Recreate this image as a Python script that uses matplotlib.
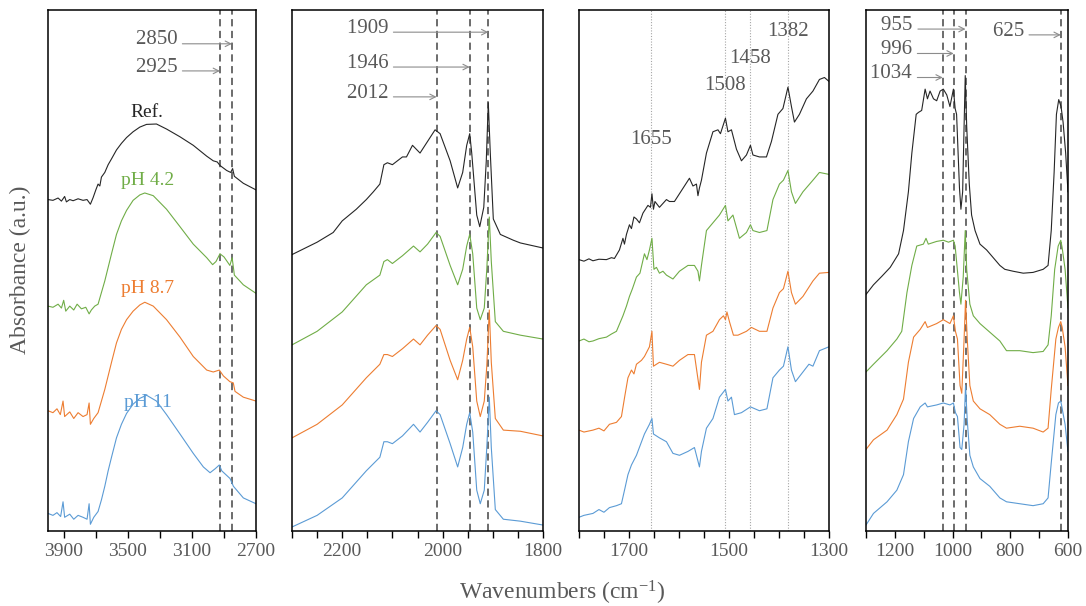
import matplotlib
matplotlib.use('Agg')
import matplotlib.pyplot as plt

plt.rcParams['font.family'] = ['Liberation Serif', 'DejaVu Serif']
plt.rcParams['mathtext.default'] = 'regular'

# colours of the four samples
c_ref = '#262626'
c_42 = '#70ad47'
c_87 = '#ed7d31'
c_11 = '#5b9bd5'
grey = '#595959'

# ---- panel 1 : 4000-2700 cm-1 ----
p1_ref_x = [4000, 3969, 3937, 3916, 3896, 3885, 3864, 3843, 3812, 3781, 3756, 3735, 3718, 3701, 3687, 3676,
            3666, 3645, 3624, 3603, 3572, 3541, 3509, 3468, 3426, 3384, 3322, 3259, 3175, 3092, 3008, 2967,
            2942, 2925, 2883, 2858, 2846, 2835, 2779, 2700]
p1_ref_y = [85.5, 85.3, 85.9, 85.1, 86.3, 84.9, 85.5, 85.2, 85.7, 85.3, 85.5, 84.3, 86.0, 88.0, 89.5, 89.0,
            91.3, 92.5, 94.5, 96.0, 98.3, 100.0, 101.5, 103.0, 104.2, 104.9, 105.0, 103.7, 101.7, 99.5, 96.7, 95.5,
            95.2, 94.3, 93.0, 92.5, 93.5, 91.5, 89.7, 88.0]
p1_42_x = [4000, 3969, 3937, 3916, 3902, 3889, 3864, 3839, 3818, 3791, 3764, 3743, 3729, 3708, 3687, 3666,
           3645, 3624, 3603, 3572, 3541, 3509, 3468, 3426, 3395, 3342, 3259, 3175, 3092, 3008, 2971, 2950,
           2925, 2900, 2863, 2849, 2835, 2779, 2700]
p1_42_y = [58.0, 57.7, 58.5, 57.5, 59.5, 56.7, 58.0, 57.0, 58.5, 57.3, 57.7, 56.0, 57.0, 58.0, 58.5, 61.5,
           64.5, 68.0, 71.5, 76.5, 80.0, 82.7, 85.3, 86.7, 87.2, 86.5, 83.0, 78.5, 74.0, 70.5, 68.7, 69.5,
           71.5, 70.7, 68.5, 70.5, 66.0, 63.5, 61.3]
p1_87_x = [4000, 3969, 3944, 3923, 3906, 3896, 3864, 3839, 3812, 3781, 3756, 3743, 3735, 3714, 3687, 3666,
           3645, 3624, 3603, 3572, 3541, 3509, 3468, 3426, 3395, 3342, 3259, 3175, 3092, 3008, 2967, 2929,
           2904, 2863, 2842, 2831, 2779, 2700]
p1_87_y = [31.0, 30.5, 31.5, 30.0, 33.5, 29.5, 30.7, 29.0, 30.5, 29.5, 30.0, 33.0, 27.5, 29.0, 30.5, 33.5,
           36.5, 40.0, 43.5, 48.5, 52.0, 54.5, 56.7, 58.3, 59.0, 58.0, 54.5, 50.0, 45.0, 41.5, 41.0, 41.5,
           40.0, 38.5, 38.2, 36.0, 34.5, 33.5]
p1_11_x = [4000, 3969, 3944, 3921, 3906, 3896, 3864, 3839, 3812, 3781, 3756, 3743, 3735, 3714, 3687, 3666,
           3645, 3624, 3603, 3572, 3541, 3509, 3468, 3426, 3384, 3322, 3259, 3175, 3092, 3029, 2987, 2956,
           2929, 2914, 2862, 2841, 2779, 2700]
p1_11_y = [4.5, 4.0, 4.7, 3.7, 7.5, 3.5, 4.3, 3.0, 4.0, 3.5, 3.0, 7.0, 1.7, 3.5, 5.0, 8.0,
           11.5, 15.5, 19.0, 24.0, 27.5, 30.3, 32.7, 34.2, 35.0, 33.5, 30.0, 25.0, 20.0, 16.5, 15.0, 16.0,
           17.0, 15.5, 13.5, 11.5, 8.5, 7.0]

# ---- panel 2 : 2300-1800 cm-1 ----
p2_x = [2300, 2250, 2218, 2200, 2172, 2152, 2138, 2125, 2117, 2110, 2100, 2080, 2072, 2060, 2045, 2030,
        2015, 2005, 1985, 1970, 1960, 1952, 1946, 1942, 1932, 1926, 1918, 1913, 1909, 1905, 1899, 1885,
        1859, 1845, 1800]
p2_ref = [71.3, 74.5, 77.0, 80.0, 83.0, 85.5, 87.5, 89.5, 94.5, 95.0, 94.5, 96.5, 96.5, 99.5, 97.5, 100.5,
          103.5, 102.5, 95.5, 88.5, 92.5, 99.5, 102.5, 97.5, 81.5, 78.5, 83.5, 95.5, 110.5, 97.5, 80.5, 76.5,
          75.0, 74.3, 73.0]
p2_xs = [2300, 2250, 2200, 2152, 2125, 2117, 2110, 2100, 2080, 2058, 2045, 2030, 2013, 2005, 1985, 1970,
         1960, 1952, 1946, 1940, 1932, 1925, 1917, 1912, 1907, 1903, 1895, 1879, 1845, 1800]
p2_42 = [48.0, 51.5, 56.5, 63.5, 66.0, 69.5, 70.0, 69.0, 71.0, 73.5, 72.0, 74.0, 77.0, 76.0, 68.5, 63.5,
         67.5, 73.5, 76.5, 71.5, 57.5, 54.5, 57.5, 67.5, 81.0, 69.5, 54.0, 51.5, 50.5, 49.5]
p2_87 = [24.0, 27.5, 32.5, 39.5, 43.0, 45.5, 45.5, 45.0, 47.0, 49.5, 48.0, 50.5, 53.0, 52.0, 44.0, 39.0,
         44.0, 49.5, 52.5, 47.5, 33.5, 29.5, 33.5, 42.5, 57.0, 43.5, 29.0, 26.0, 25.7, 24.5]
p2_11 = [1.0, 4.0, 8.5, 15.5, 19.0, 23.0, 23.0, 22.5, 24.5, 27.5, 25.5, 28.0, 31.0, 30.0, 22.5, 16.5,
         21.5, 27.5, 30.5, 25.5, 10.5, 7.0, 10.5, 21.5, 34.5, 21.5, 5.5, 3.0, 2.5, 1.5]

# ---- panel 3 : 1800-1300 cm-1 ----
p3_ref_x = [1800, 1790, 1780, 1772, 1760, 1745, 1735, 1729, 1719, 1712, 1709, 1705, 1699, 1695, 1690, 1685,
            1679, 1672, 1667, 1662, 1657, 1654, 1651, 1648, 1645, 1639, 1632, 1625, 1619, 1609, 1599, 1579,
            1572, 1565, 1562, 1559, 1555, 1545, 1532, 1522, 1517, 1512, 1507, 1502, 1495, 1485, 1475, 1465,
            1457, 1452, 1439, 1425, 1415, 1402, 1392, 1382, 1375, 1369, 1359, 1345, 1332, 1319, 1309, 1300]
p3_ref = [70.0, 69.6, 70.2, 69.7, 70.1, 70.0, 70.5, 70.3, 72.5, 75.5, 74.0, 76.5, 79.0, 78.0, 81.0, 80.5,
          79.5, 82.0, 83.0, 84.0, 83.5, 87.0, 83.0, 85.0, 84.5, 83.5, 84.5, 85.5, 85.0, 85.0, 87.0, 91.0,
          89.0, 89.5, 86.5, 88.5, 90.5, 97.5, 103.0, 103.5, 102.5, 104.5, 106.5, 103.0, 103.5, 98.5, 95.5, 97.0,
          99.5, 97.0, 96.5, 96.5, 100.5, 107.5, 109.0, 114.5, 109.5, 105.5, 107.5, 111.5, 113.5, 116.5, 117.0, 116.0]
p3_42_x = [1800, 1790, 1780, 1772, 1760, 1745, 1735, 1725, 1712, 1705, 1699, 1693, 1685, 1678, 1669, 1664,
           1659, 1654, 1650, 1645, 1639, 1632, 1625, 1612, 1599, 1582, 1569, 1562, 1559, 1555, 1545, 1532,
           1519, 1507, 1502, 1492, 1479, 1465, 1457, 1452, 1439, 1424, 1412, 1399, 1391, 1382, 1375, 1367,
           1352, 1332, 1319, 1300]
p3_42 = [49.0, 49.5, 48.8, 49.0, 49.6, 50.0, 50.8, 51.5, 55.5, 58.0, 60.5, 62.5, 65.5, 66.5, 71.5, 70.0,
         72.5, 75.5, 67.5, 68.0, 66.5, 67.0, 66.0, 65.0, 67.0, 68.5, 68.5, 67.0, 64.5, 68.5, 77.5, 79.5,
         81.5, 84.0, 80.0, 81.5, 75.5, 77.0, 79.0, 77.5, 77.0, 77.5, 85.5, 89.5, 90.5, 93.0, 87.5, 84.5,
         87.5, 90.5, 92.5, 92.0]
p3_87_x = [1800, 1790, 1772, 1760, 1750, 1739, 1725, 1715, 1708, 1702, 1695, 1690, 1685, 1675, 1669, 1659,
           1654, 1651, 1639, 1625, 1612, 1599, 1582, 1569, 1559, 1555, 1545, 1532, 1519, 1511, 1507, 1504,
           1499, 1491, 1482, 1465, 1455, 1439, 1424, 1412, 1399, 1391, 1382, 1375, 1367, 1352, 1332, 1319, 1300]
p3_87 = [26.0, 25.5, 26.0, 26.5, 25.8, 27.5, 28.0, 29.5, 35.0, 39.5, 41.5, 40.5, 43.0, 44.0, 45.0, 47.5,
         51.5, 42.5, 43.5, 43.0, 42.5, 44.0, 45.5, 45.5, 36.5, 43.5, 50.5, 51.5, 54.5, 55.5, 54.5, 56.5,
         54.0, 50.5, 50.5, 51.5, 52.5, 51.5, 51.5, 57.5, 61.5, 62.5, 67.0, 61.5, 58.5, 60.5, 64.5, 66.5, 66.7]
p3_11_x = [1800, 1790, 1772, 1760, 1750, 1739, 1725, 1715, 1708, 1702, 1695, 1685, 1669, 1659, 1654, 1651,
           1639, 1625, 1612, 1599, 1582, 1569, 1559, 1555, 1545, 1532, 1519, 1507, 1502, 1495, 1489, 1475,
           1457, 1439, 1424, 1412, 1399, 1391, 1382, 1375, 1367, 1352, 1340, 1332, 1319, 1300]
p3_11 = [3.5, 4.0, 4.5, 5.5, 4.8, 6.0, 6.5, 7.0, 11.0, 14.5, 17.0, 19.5, 25.0, 27.5, 29.0, 25.0,
         24.0, 23.0, 20.0, 19.5, 20.5, 21.5, 16.5, 20.5, 26.5, 29.0, 34.5, 36.5, 33.5, 34.5, 30.0, 30.5,
         32.0, 31.0, 31.5, 39.5, 41.5, 42.5, 47.5, 41.5, 38.5, 41.0, 43.0, 42.5, 46.5, 47.5]

# ---- panel 4 : 1300-600 cm-1 ----
p4_ref_x = [1300, 1274, 1245, 1216, 1187, 1170, 1153, 1141, 1126, 1118, 1107, 1095, 1087, 1078, 1066, 1055,
            1043, 1032, 1020, 1009, 997, 991, 986, 976, 971, 965, 960, 956, 951, 942, 934, 922,
            905, 882, 859, 836, 819, 790, 755, 721, 686, 669, 658, 648, 640, 632, 624, 617, 608, 600]
p4_ref = [61.0, 63.5, 65.7, 68.0, 71.5, 77.5, 87.5, 97.5, 107.5, 108.0, 108.5, 114.0, 111.5, 113.5, 111.5, 111.0,
          113.5, 114.0, 112.5, 109.5, 114.0, 109.0, 107.5, 88.5, 83.0, 87.5, 104.5, 117.5, 104.5, 89.5, 81.5, 77.5,
          74.0, 72.5, 70.5, 68.5, 67.5, 67.0, 66.5, 66.7, 67.5, 68.5, 77.5, 92.5, 107.5, 111.3, 109.5, 105.5, 97.5, 87.5]
p4_42_x = [1300, 1274, 1227, 1193, 1176, 1158, 1141, 1124, 1101, 1092, 1084, 1055, 1032, 1014, 997, 991,
           986, 976, 971, 963, 956, 951, 940, 928, 905, 882, 859, 836, 813, 767, 721, 686,
           669, 658, 646, 634, 625, 620, 610, 600]
p4_42 = [41.0, 43.0, 46.5, 49.5, 51.5, 61.5, 68.5, 73.5, 74.0, 75.5, 74.0, 74.7, 75.0, 74.5, 75.0, 73.5,
         69.5, 61.5, 58.5, 65.5, 77.5, 67.5, 58.5, 55.5, 53.5, 52.0, 50.5, 49.0, 46.5, 46.5, 46.0, 46.3,
         48.0, 55.5, 67.5, 73.5, 75.0, 73.0, 67.5, 57.5]
p4_87_x = [1300, 1274, 1227, 1193, 1170, 1153, 1135, 1112, 1095, 1087, 1055, 1032, 1009, 997, 990, 983,
           974, 968, 960, 955, 949, 940, 928, 905, 871, 836, 813, 767, 721, 686, 669, 658,
           642, 633, 625, 620, 610, 600]
p4_87 = [21.0, 23.5, 26.0, 30.0, 34.0, 43.5, 50.0, 52.0, 54.0, 52.5, 53.5, 54.5, 53.5, 55.5, 51.5, 49.5,
         37.5, 35.5, 49.5, 59.5, 49.5, 37.5, 33.5, 31.5, 30.0, 27.5, 26.5, 27.0, 26.5, 25.5, 26.5, 36.5,
         49.5, 52.5, 54.0, 52.5, 47.5, 37.5]
p4_11_x = p4_87_x
p4_11 = [1.5, 4.5, 7.5, 10.5, 14.5, 23.0, 29.0, 32.0, 33.0, 32.0, 32.5, 33.0, 32.5, 33.0, 30.5, 29.5,
         21.5, 21.0, 27.5, 37.5, 28.5, 19.5, 16.5, 13.5, 11.5, 8.5, 7.5, 7.0, 6.5, 7.0, 8.5, 17.5,
         30.0, 33.0, 33.5, 31.5, 27.5, 20.5]

sample_names = ['Ref.', 'pH 4.2', 'pH 8.7', 'pH 11']
sample_colors = [c_ref, c_42, c_87, c_11]
name_pos = [(3380, 108.0), (3380, 90.5), (3380, 62.5), (3375, 33.0)]

# marked bands: (wavenumber, arrow height, arrow start)
p1_bands = [(2850, 125.7, 3160), (2925, 118.7, 3160)]
p2_bands = [(1909, 128.7, 2098), (1946, 119.7, 2098), (2012, 112.0, 2098)]
p3_bands = [(1655, 101.0), (1508, 115.0), (1458, 122.0), (1382, 129.0)]
p4_bands = [(955, 129.5, 1120), (996, 123.2, 1122), (1034, 117.0, 1122), (625, 128.0, 735)]

fig = plt.figure(figsize=(10.86, 6.06), dpi=100)
bot, h = 0.124, 0.860
ax1 = fig.add_axes([0.0442, bot, 0.1915, h])
ax2 = fig.add_axes([0.2689, bot, 0.2311, h])
ax3 = fig.add_axes([0.5331, bot, 0.2302, h])
ax4 = fig.add_axes([0.7974, bot, 0.1860, h])

lw = 0.8
ax1.plot(p1_ref_x, p1_ref_y, color=c_ref, lw=lw)
ax1.plot(p1_42_x, p1_42_y, color=c_42, lw=lw)
ax1.plot(p1_87_x, p1_87_y, color=c_87, lw=lw)
ax1.plot(p1_11_x, p1_11_y, color=c_11, lw=lw)

ax2.plot(p2_x, p2_ref, color=c_ref, lw=lw)
ax2.plot(p2_xs, p2_42, color=c_42, lw=lw)
ax2.plot(p2_xs, p2_87, color=c_87, lw=lw)
ax2.plot(p2_xs, p2_11, color=c_11, lw=lw)

ax3.plot(p3_ref_x, p3_ref, color=c_ref, lw=lw)
ax3.plot(p3_42_x, p3_42, color=c_42, lw=lw)
ax3.plot(p3_87_x, p3_87, color=c_87, lw=lw)
ax3.plot(p3_11_x, p3_11, color=c_11, lw=lw)

ax4.plot(p4_ref_x, p4_ref, color=c_ref, lw=lw)
ax4.plot(p4_42_x, p4_42, color=c_42, lw=lw)
ax4.plot(p4_87_x, p4_87, color=c_87, lw=lw)
ax4.plot(p4_11_x, p4_11, color=c_11, lw=lw)

for name, col, (x, y) in zip(sample_names, sample_colors, name_pos):
    ax1.text(x, y, name, color=col, fontsize=14, ha='center', va='center')


def arrow_label(ax, wn, y, x0, txt):
    ax.annotate('', xy=(wn, y), xytext=(x0, y),
                arrowprops=dict(arrowstyle='->', color='#8c8c8c', lw=0.8,
                                shrinkA=0, shrinkB=0, mutation_scale=10))
    ax.text(x0, y + 1.0, txt + ' ', color=grey, fontsize=15, ha='right', va='center')


dash = (0, (4, 2.5))
for ax, bands in [(ax1, p1_bands), (ax2, p2_bands), (ax4, p4_bands)]:
    for wn, y, x0 in bands:
        ax.axvline(wn, color='#606060', lw=1.3, ls=dash, zorder=0)
        arrow_label(ax, wn, y, x0, str(wn))

for wn, y in p3_bands:
    ax3.axvline(wn, color='#a6a6a6', lw=0.8, ls=(0, (1, 1.5)), zorder=0)
    ax3.text(wn, y, str(wn), color=grey, fontsize=15, ha='center', va='center')

limits = [(4000, 2700), (2300, 1800), (1800, 1300), (1300, 600)]
major = [[3900, 3500, 3100, 2700], [2200, 2000, 1800], [1700, 1500, 1300], [1200, 1000, 800, 600]]
minor = [list(range(3700, 2800, -400)), list(range(2300, 1799, -50)), list(range(1800, 1299, -50)),
         list(range(1300, 599, -100))]

for ax, lim, mj, mn in zip([ax1, ax2, ax3, ax4], limits, major, minor):
    ax.set_xlim(lim)
    ax.set_ylim(0, 134.5)
    ax.set_yticks([])
    ax.set_xticks(mj)
    ax.set_xticks(mn, minor=True)
    ax.tick_params(axis='x', which='both', direction='out', length=5, width=1, color='black',
                   labelsize=14, labelcolor=grey, pad=4)
    for s in ax.spines.values():
        s.set_linewidth(1.1)
        s.set_color('black')

fig.text(0.518, 0.021, 'Wavenumbers (cm$^{-1}$)', ha='center', va='center', fontsize=17, color=grey)
fig.text(0.019, 0.555, 'Absorbance (a.u.)', ha='center', va='center', rotation=90, fontsize=17, color=grey)

fig.savefig('out.png', dpi=100)
